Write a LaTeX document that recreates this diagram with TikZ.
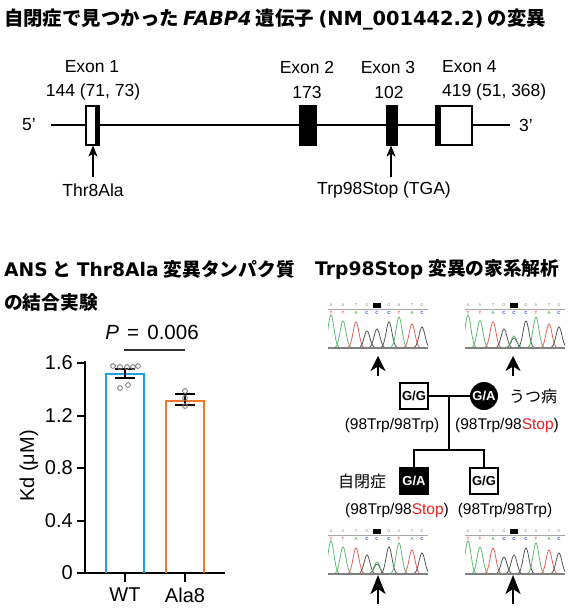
\documentclass[tikz,border=0pt]{standalone}
\usepackage{fontspec}
\setmainfont{Liberation Sans}
\newfontfamily\jp{Noto Sans CJK JP}
\newfontfamily\dv{DejaVu Sans}
\usetikzlibrary{arrows.meta}
\definecolor{wtblue}{RGB}{30,160,225}
\definecolor{alaor}{RGB}{240,120,40}
\definecolor{cgreen}{RGB}{95,185,115}
\definecolor{cred}{RGB}{230,95,95}
\definecolor{cgray}{RGB}{85,85,85}
\definecolor{cblue}{RGB}{60,80,220}
\definecolor{stopred}{RGB}{235,30,30}
\newcommand\chrom[4]{%
\begin{scope}
\draw[gray!70, line width=0.8] (#1,#2-39) -- (#1+100,#2-39);
\foreach \p/\t/\b/\cc in {3/A/T/cred, 15/A/T/cred, 28/T/A/cgreen, 39/G/C/cblue, 61/G/C/cblue, 71/A/T/cred, 84/T/A/cgreen, 94/G/C/cblue}{
  \node[toplet] (#4t\p) at (#1+\p,#2-43) {\t};
  \node[botlet,text=\cc] (#4b\p) at (#1+\p,#2-35.5) {\b};}
\node[fill=black, minimum width=8, minimum height=5, inner sep=0] (#4box) at (#1+49,#2-43) {};
\node[botlet,text=cblue] (#4b49) at (#1+49,#2-35.5) {C};
\clip (#1,#2-40) rectangle (#1+100,#2);
\foreach \p/\hh/\cc in #3{
  \draw[\cc, line width=0.8] plot[domain=-11:11, samples=31, smooth] ({#1+\p+\x},{#2-\hh*exp(-(\x)*(\x)/17)});}
\end{scope}
\draw[gray, line width=1.3] (#1,#2) -- (#1+100,#2);
}
\def\homo{3/33/cgreen, 15/27/cgreen, 28/26/cred, 39/17/cgray, 49/19/cgray, 61/26/cgray, 71/31/cgreen, 84/24/cred, 94/21/cgray}
\def\het{3/33/cgreen, 15/27/cgreen, 28/26/cred, 39/19/cgray, 49/10/cgray, 49/12/cgreen, 61/27/cgray, 71/31/cgreen, 84/24/cred, 94/21/cgray}
\begin{document}
\begin{tikzpicture}[x=1pt,y=-1pt,
  lab/.style={font=\fontsize{17.5}{19}\selectfont, inner sep=0},
  chart/.style={font=\fontsize{20}{22}\selectfont, inner sep=0},
  ped/.style={font=\fontsize{15.5}{17}\selectfont, inner sep=0},
  hd/.style={font=\fontsize{18.7}{20}\selectfont\bfseries, inner sep=0, anchor=west},
  toplet/.style={font=\fontsize{4}{4}\selectfont, text=gray, inner sep=0},
  botlet/.style={font=\fontsize{4.5}{4.5}\selectfont\bfseries, inner sep=0},
  exon/.style={draw, line width=1.2, minimum height=39, inner sep=0},
  garrow/.style={line width=1.3, -{Stealth[length=11pt,width=9pt,inset=3pt]}},
  carrow/.style={line width=2, -{Stealth[length=15pt,width=15pt,inset=4.5pt]}},
  carrowb/.style={line width=2, -{Stealth[length=19pt,width=15pt,inset=5pt]}},
  psq/.style={draw, line width=1.5, minimum width=28, minimum height=26, inner sep=0, font=\fontsize{13}{13}\selectfont\bfseries},
  pci/.style={circle, fill=black, minimum size=28, inner sep=0, text=white, font=\fontsize{13}{13}\selectfont\bfseries},
  pline/.style={line width=1.5}]
\useasboundingbox (0,0) rectangle (570,612);

% title
\node[anchor=west, inner sep=0, font=\fontsize{19.4}{21}\selectfont\bfseries] (title) at (4,19)
 {\jp 自閉症で見つかった {\dv\itshape FABP4} 遺伝子 {\dv (NM\_001442.2)} の変異};

% gene diagram
\coordinate (l5) at (51,125);
\coordinate (l3) at (510,125);
\draw[line width=1.3] (l5) -- (l3);
\node[lab] (p5) at (29,125) {5’};
\node[lab] (p3) at (526,125) {3’};
\node[exon, fill=white, minimum width=13] (e1) at (92.5,125.5) {};
\fill (95,106) rectangle (99,145);
\node[exon, fill=black, minimum width=16] (e2) at (308,125.5) {};
\node[exon, fill=black, minimum width=10] (e3) at (392,125.5) {};
\node[exon, fill=white, minimum width=36] (e4) at (454,125.5) {};
\fill (436,106) rectangle (440.5,145);
\node[lab] (x1) at (92,67) {Exon 1};
\node[lab] (n1) at (93,92) {144 (71, 73)};
\node[lab] (x2) at (307,67) {Exon 2};
\node[lab] (n2) at (307,92) {173};
\node[lab] (x3) at (388,67) {Exon 3};
\node[lab] (n3) at (389,92) {102};
\node[lab, anchor=west] (x4) at (442,67) {Exon 4};
\node[lab, anchor=west] (n4) at (442,92) {419 (51, 368)};
\coordinate (a1) at (93,177);
\coordinate (a3) at (391,177);
\draw[garrow] (a1) -- (a1 |- e1.south);
\draw[garrow] (a3) -- (a3 |- e3.south);
\node[lab] (m1) at (93,190) {Thr8Ala};
\node[lab] (m3) at (384,190) {Trp98Stop (TGA)};

% headings
\node[hd] (h1) at (4,269) {{\dv ANS} {\jp と} {\dv Thr8Ala} {\jp 変異タンパク質}};
\node[hd] (h2) at (4,302) {\jp の結合実験};
\node[hd] (h3) at (315,269) {{\dv Trp98Stop} {\jp 変異の家系解析}};

% bar chart
\draw[line width=2] (85,361) -- (85,573) -- (225,573);
\foreach \v/\y in {0/573, 0.4/520.5, 0.8/468, 1.2/415.5, 1.6/363}{
  \draw[line width=2] (77,\y) -- (85,\y);
  \node[chart, anchor=east] (yt\y) at (73,\y) {\v};}
\draw[line width=2] (125,573) -- (125,582);
\draw[line width=2] (185,573) -- (185,582);
\node[chart] (wt) at (125,595) {WT};
\node[chart] (ala) at (185,595) {Ala8};
\node[chart, rotate=90] (kd) at (29,466) {Kd (μM)};
\draw[wtblue, line width=2] (106,573) -- (106,374) -- (144,374) -- (144,573);
\draw[alaor, line width=2] (166,573) -- (166,401) -- (204,401) -- (204,573);
\draw[line width=2] (125,369) -- (125,378);
\draw[line width=2] (115,369) -- (135,369);
\draw[line width=2] (115,378) -- (135,378);
\draw[line width=2] (185,394) -- (185,405);
\draw[line width=2] (175,394) -- (195,394);
\draw[line width=2] (175,405) -- (195,405);
\foreach \px/\py in {113/366, 120/367, 127/367, 133/367, 138/366, 120/388, 128/385, 185/391, 185/398, 185/406}{
  \draw[gray, line width=0.9] (\px,\py) circle (2.4);}
\draw[line width=1.5, black!80] (124,350) -- (185,350);
\node[chart, font=\fontsize{20.5}{22}\selectfont] (pv) at (152,332) {\textit{P}\hspace{0.4em}=\hspace{0.4em}0.006};

% chromatograms
\chrom{328}{348}{\homo}{ca}
\chrom{465}{348}{\het}{cb}
\chrom{328}{574}{\het}{cc}
\chrom{465}{574}{\homo}{cd}
\coordinate (ar1s) at (378,376); \coordinate (ar1e) at (378,356);
\coordinate (ar2s) at (513,376); \coordinate (ar2e) at (513,356);
\coordinate (ar3s) at (378,604); \coordinate (ar3e) at (378,575);
\coordinate (ar4s) at (513,604); \coordinate (ar4e) at (513,575);
\draw[carrow] (ar1s) -- (ar1e);
\draw[carrow] (ar2s) -- (ar2e);
\draw[carrowb] (ar3s) -- (ar3e);
\draw[carrowb] (ar4s) -- (ar4e);

% pedigree
\node[psq] (f) at (414,396) {G/G};
\node[pci] (m) at (484,396) {G/A};
\node[psq, fill=black, text=white] (c1) at (414,481) {G/A};
\node[psq] (c2) at (484,481) {G/G};
\coordinate (j) at (449,396);
\coordinate (s) at (449,450);
\draw[pline] (f.east) -- (m.west);
\draw[pline] (j) -- (s);
\draw[pline] (c1.north) -- (c1.north |- s) -- (c2.north |- s) -- (c2.north);
\node[ped, font=\jp\fontsize{16}{18}\selectfont] (dep) at (533,396) {うつ病};
\node[ped, font=\jp\fontsize{16}{18}\selectfont] (aut) at (362,481) {自閉症};
\node[ped] (gf) at (392,425) {(98Trp/98Trp)};
\node[ped] (gm) at (507,425) {(98Trp/98\textcolor{stopred}{Stop})};
\node[ped] (g1) at (397,510) {(98Trp/98\textcolor{stopred}{Stop})};
\node[ped] (g2) at (505,510) {(98Trp/98Trp)};
\end{tikzpicture}
\end{document}
